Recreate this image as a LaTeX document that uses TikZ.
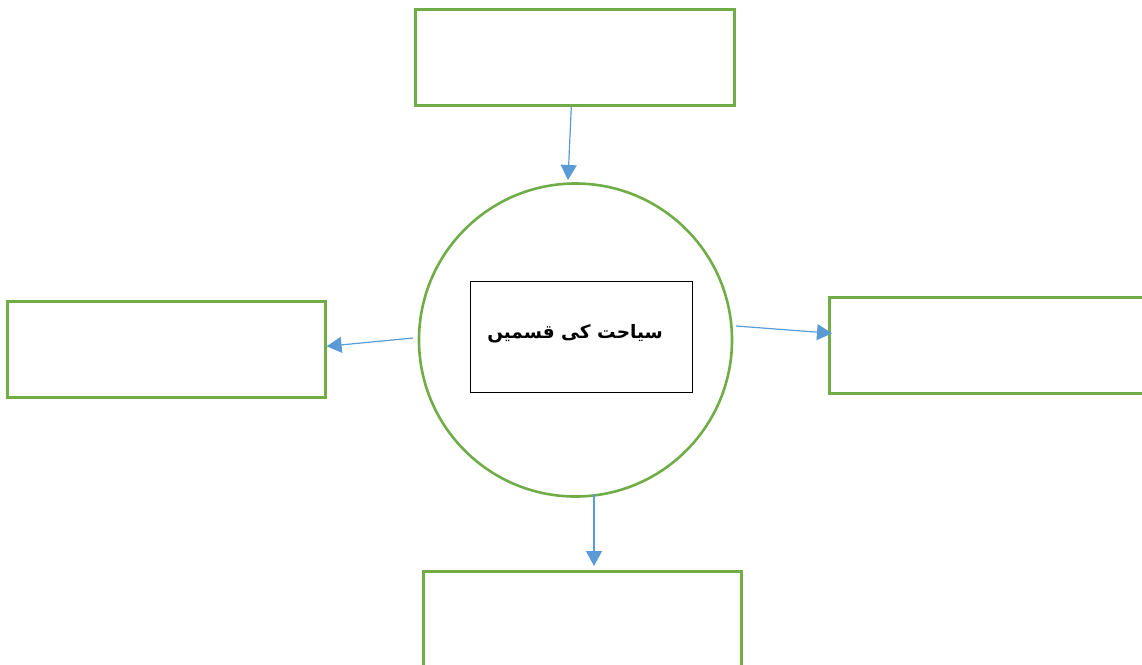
\documentclass[tikz,border=0pt]{standalone}
\usepackage{fontspec}
\newfontfamily\arabicfont[Script=Arabic]{DejaVu Sans}
\TeXXeTstate=1
\usetikzlibrary{arrows.meta}
\definecolor{grn}{HTML}{70AD47}
\definecolor{blu}{HTML}{5B9BD5}
\begin{document}
\begin{tikzpicture}[x=1pt,y=-1pt,
  gbox/.style={draw=grn,line width=2.6pt,rectangle,inner sep=0pt,anchor=north west},
  conn/.style={draw=blu,line width=1.2pt,-{Triangle[length=15pt,width=16pt]}}]
\useasboundingbox (0,0) rectangle (1142,664);
\clip (0,0) rectangle (1142,664);
\node[gbox,minimum width=319pt,minimum height=96pt] (top) at (414,8) {};
\node[gbox,minimum width=318pt,minimum height=96pt] (left) at (6,300) {};
\node[gbox,minimum width=330pt,minimum height=96pt] (right) at (828,296) {};
\node[gbox,minimum width=318pt,minimum height=110pt] (bottom) at (422,570) {};
\node[draw=grn,line width=2.6pt,circle,minimum size=313pt,inner sep=0pt] (circ) at (575.5,340) {};
\node[draw=black,line width=1pt,rectangle,minimum width=222pt,minimum height=111pt,inner sep=0pt] (inner) at (581,336.5) {};
\node[font=\arabicfont\bfseries\fontsize{18.5}{22}\selectfont] (label) at (575,334) {\beginR سیاحت کی قسمیں\endR};
\coordinate (t1) at ([xshift=-3.5pt]top.south);
\coordinate (t2) at (568,180);
\coordinate (l1) at (413,338);
\coordinate (r1) at (736,326);
\coordinate (b1) at (594,494);
\draw[conn] (t1) -- (t2);
\draw[conn] (l1) -- ([yshift=3pt]left.east);
\draw[conn] (r1) -- ([xshift=4pt,yshift=12pt]right.west);
\draw[conn] (b1) -- (594,566);
\end{tikzpicture}
\end{document}
